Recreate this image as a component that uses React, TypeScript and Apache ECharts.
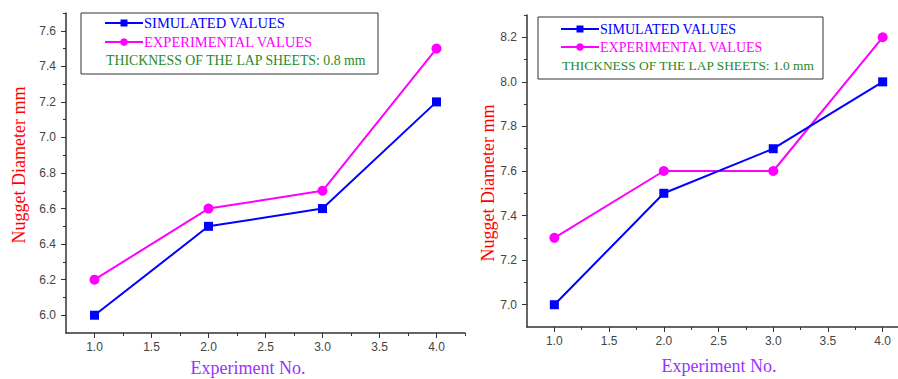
import React, { useEffect, useRef } from "react";
import * as echarts from "echarts";

const xMajor = [1.0, 1.5, 2.0, 2.5, 3.0, 3.5, 4.0];
const xMinor = [1.25, 1.75, 2.25, 2.75, 3.25, 3.75, 4.25];
const experiments = [1, 2, 3, 4];

const leftSimulated = [6.0, 6.5, 6.6, 7.2];
const leftExperimental = [6.2, 6.6, 6.7, 7.5];
const leftYMajor = [6.0, 6.2, 6.4, 6.6, 6.8, 7.0, 7.2, 7.4, 7.6];
const leftYMinor = [6.1, 6.3, 6.5, 6.7, 6.9, 7.1, 7.3, 7.5, 7.7];

const rightSimulated = [7.0, 7.5, 7.7, 8.0];
const rightExperimental = [7.3, 7.6, 7.6, 8.2];
const rightYMajor = [7.0, 7.2, 7.4, 7.6, 7.8, 8.0, 8.2];
const rightYMinor = [7.1, 7.3, 7.5, 7.7, 7.9, 8.1, 8.3];

const simName = "SIMULATED VALUES";
const expName = "EXPERIMENTAL VALUES";
const leftNote = "THICKNESS OF THE LAP SHEETS: 0.8 mm";
const rightNote = "THICKNESS OF THE LAP SHEETS: 1.0 mm";
const yTitle = "Nugget Diameter mm";
const xTitle = "Experiment No.";

const BLUE = "#0000ff";
const MAGENTA = "#ff00ff";
const GREEN = "#1f8a1f";
const RED = "#ff0000";
const PURPLE = "#9933ff";
const AXIS = "#333333";
const SERIF = "'Liberation Serif', 'Times New Roman', serif";
const SANS = "'Liberation Sans', Arial, sans-serif";

function pairs(vals: number[]) {
  return experiments.map((x, i) => [x, vals[i]]);
}

function majorX(grid: number, max: number) {
  return {
    type: "value",
    gridIndex: grid,
    position: "bottom",
    min: 0.75,
    max,
    axisLine: { show: true, onZero: false, lineStyle: { color: AXIS, width: 1.5 } },
    axisTick: { show: true, customValues: xMajor, length: 5, lineStyle: { color: AXIS, width: 1 } },
    axisLabel: {
      show: true,
      customValues: xMajor,
      margin: 8,
      color: "#444",
      fontFamily: SANS,
      fontSize: 12,
      formatter: (v: number) => v.toFixed(1),
    },
    splitLine: { show: false },
  };
}
function minorX(grid: number, max: number) {
  return {
    type: "value",
    gridIndex: grid,
    position: "bottom",
    min: 0.75,
    max,
    axisLine: { show: false, onZero: false },
    axisTick: { show: true, customValues: xMinor.filter((v) => v <= max), length: 3, lineStyle: { color: AXIS, width: 1 } },
    axisLabel: { show: false },
    splitLine: { show: false },
  };
}
function majorY(grid: number, min: number, max: number, ticks: number[]) {
  return {
    type: "value",
    gridIndex: grid,
    position: "left",
    min,
    max,
    axisLine: { show: true, onZero: false, lineStyle: { color: AXIS, width: 1.5 } },
    axisTick: { show: true, customValues: ticks, length: 5, lineStyle: { color: AXIS, width: 1 } },
    axisLabel: {
      show: true,
      customValues: ticks,
      margin: 10,
      color: "#444",
      fontFamily: SANS,
      fontSize: 12,
      formatter: (v: number) => v.toFixed(1),
    },
    splitLine: { show: false },
  };
}
function minorY(grid: number, min: number, max: number, ticks: number[]) {
  return {
    type: "value",
    gridIndex: grid,
    position: "left",
    offset: 0,
    min,
    max,
    axisLine: { show: false, onZero: false },
    axisTick: { show: true, customValues: ticks, length: 3, lineStyle: { color: AXIS, width: 1 } },
    axisLabel: { show: false },
    splitLine: { show: false },
  };
}

function lineSeries(name: string, vals: number[], xi: number, yi: number, color: string, symbol: string, size: number) {
  return {
    type: "line",
    name,
    xAxisIndex: xi,
    yAxisIndex: yi,
    data: pairs(vals),
    symbol,
    symbolSize: size,
    showSymbol: true,
    lineStyle: { color, width: 2 },
    itemStyle: { color },
    z: symbol === "rect" ? 3 : 2,
  };
}

function legendBlock(bx: number, by: number, bw: number, bh: number, lx: number, rowY: number[], note: string, noteX: number, fs: number, noteFs: number) {
  const lineEnd = lx + 38;
  const mid = lx + 19;
  return [
    { type: "rect", shape: { x: bx, y: by, width: bw, height: bh }, style: { fill: "#fff", stroke: AXIS, lineWidth: 1 }, z: 10 },
    { type: "line", shape: { x1: lx, y1: rowY[0], x2: lineEnd, y2: rowY[0] }, style: { stroke: BLUE, lineWidth: 2 }, z: 11 },
    { type: "rect", shape: { x: mid - 3.5, y: rowY[0] - 3.5, width: 7, height: 7 }, style: { fill: BLUE }, z: 12 },
    { type: "text", x: lineEnd + 1, y: rowY[0], style: { text: simName, fill: BLUE, font: `${fs}px ${SERIF}`, verticalAlign: "middle", align: "left" }, z: 12 },
    { type: "line", shape: { x1: lx, y1: rowY[1], x2: lineEnd, y2: rowY[1] }, style: { stroke: MAGENTA, lineWidth: 2 }, z: 11 },
    { type: "circle", shape: { cx: mid, cy: rowY[1], r: 3.8 }, style: { fill: MAGENTA }, z: 12 },
    { type: "text", x: lineEnd + 1, y: rowY[1], style: { text: expName, fill: MAGENTA, font: `${fs}px ${SERIF}`, verticalAlign: "middle", align: "left" }, z: 12 },
    { type: "text", x: noteX, y: rowY[2], style: { text: note, fill: GREEN, font: `${noteFs}px ${SERIF}`, verticalAlign: "middle", align: "left" }, z: 12 },
  ];
}

export default function App() {
  const ref = useRef<HTMLDivElement>(null);
  useEffect(() => {
    document.body.style.margin = "0";
    if (!ref.current) return;
    const chart = echarts.init(ref.current, undefined, { renderer: "svg" });
    const rightMax = 4.14;
    const option: any = {
      animation: false,
      backgroundColor: "#ffffff",
      grid: [
        { left: 66, top: 13, width: 399, height: 320, containLabel: false },
        { left: 527, top: 15, width: 371, height: 312, containLabel: false },
      ],
      xAxis: [majorX(0, 4.25), minorX(0, 4.25), majorX(1, rightMax), minorX(1, rightMax)],
      yAxis: [
        majorY(0, 5.9, 7.7, leftYMajor),
        minorY(0, 5.9, 7.7, leftYMinor),
        majorY(1, 6.9, 8.3, rightYMajor),
        minorY(1, 6.9, 8.3, rightYMinor),
      ],
      series: [
        lineSeries(simName, leftSimulated, 0, 0, BLUE, "rect", 9),
        lineSeries(expName, leftExperimental, 0, 0, MAGENTA, "circle", 10),
        lineSeries(simName, rightSimulated, 2, 2, BLUE, "rect", 9),
        lineSeries(expName, rightExperimental, 2, 2, MAGENTA, "circle", 10),
      ],
      graphic: [
        ...legendBlock(81, 13, 297, 61, 105, [23, 42, 60], leftNote, 106, 14.5, 13.8),
        ...legendBlock(538, 17, 285, 62, 561, [29, 47, 65], rightNote, 562, 14, 13.4),
        { type: "text", x: 19, y: 165, rotation: Math.PI / 2, style: { text: yTitle, fill: RED, font: `18px ${SERIF}`, align: "center", verticalAlign: "middle" } },
        { type: "text", x: 488, y: 183, rotation: Math.PI / 2, style: { text: yTitle, fill: RED, font: `18px ${SERIF}`, align: "center", verticalAlign: "middle" } },
        { type: "text", x: 248, y: 368, style: { text: xTitle, fill: PURPLE, font: `18px ${SERIF}`, align: "center", verticalAlign: "middle" } },
        { type: "text", x: 719, y: 366, style: { text: xTitle, fill: PURPLE, font: `18px ${SERIF}`, align: "center", verticalAlign: "middle" } },
      ],
    };
    chart.setOption(option);
    return () => chart.dispose();
  }, []);
  return <div ref={ref} style={{ width: 898, height: 379 }} />;
}
